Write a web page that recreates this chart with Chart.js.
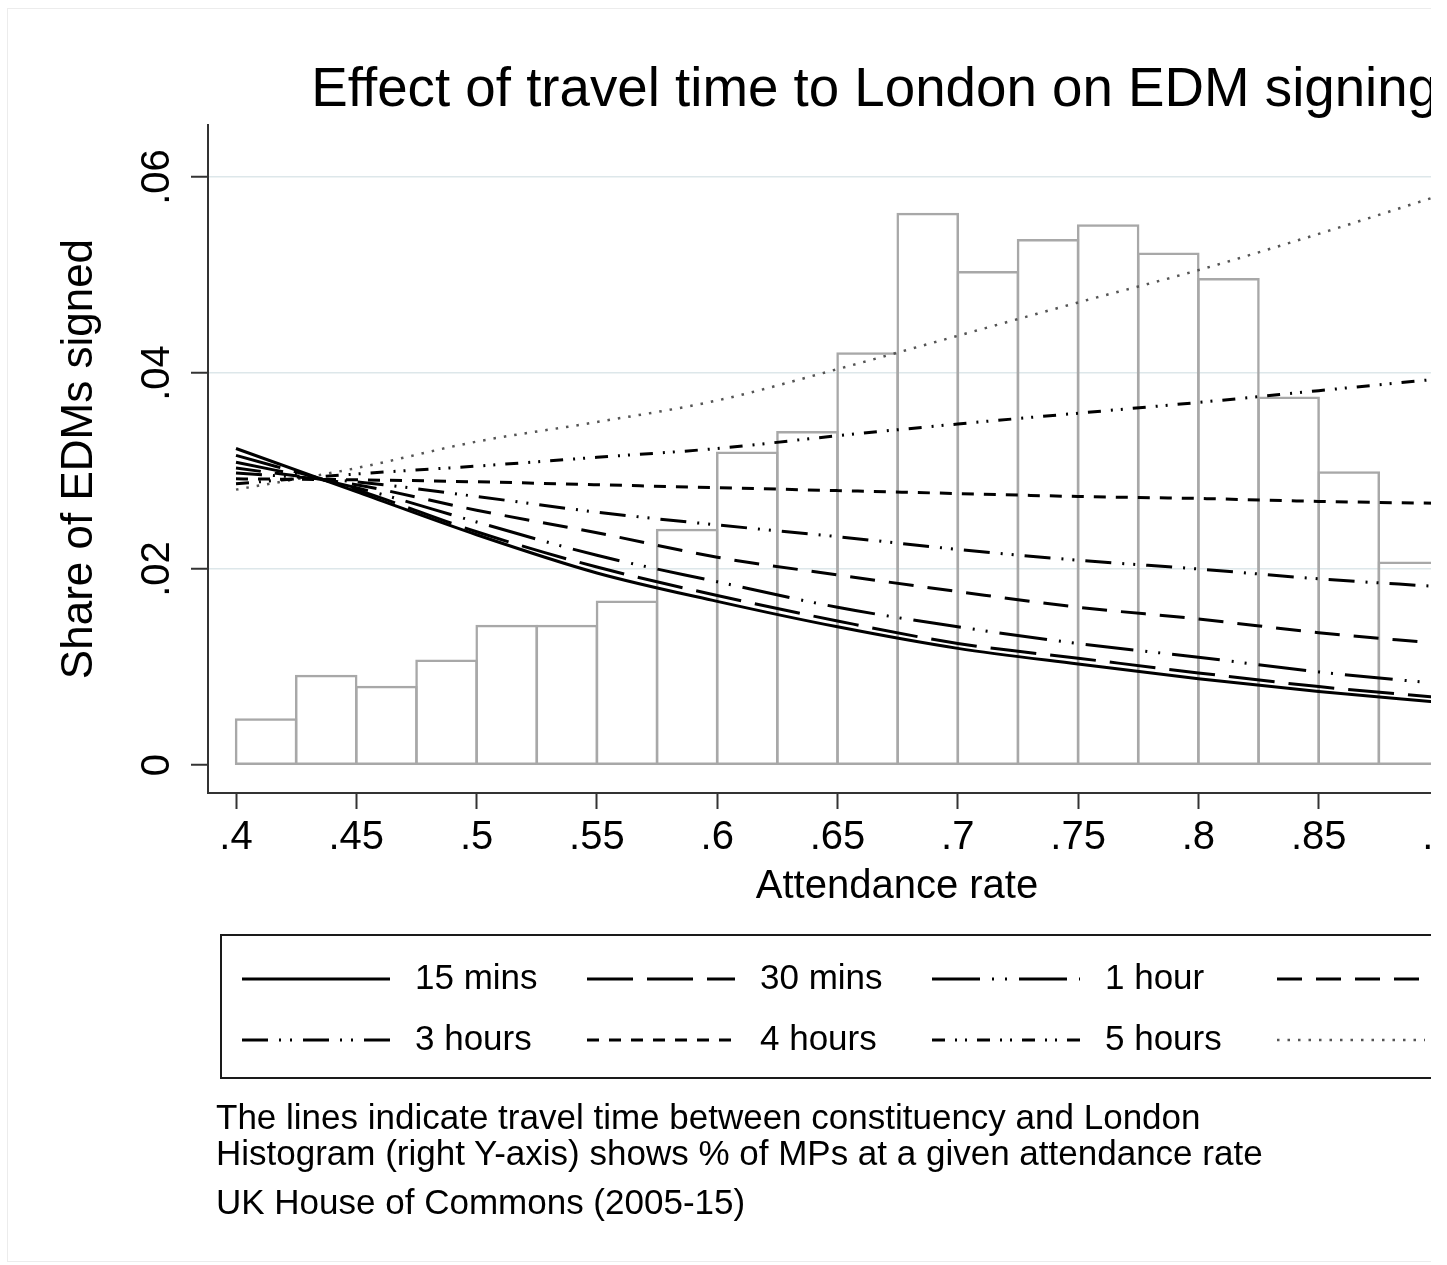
<!DOCTYPE html>
<html>
<head>
<meta charset="utf-8">
<title>Effect of travel time to London on EDM signing</title>
<script src="https://cdn.jsdelivr.net/npm/chart.js@4.4.0/dist/chart.umd.min.js"></script>
<style>
body { margin: 0; background: #fff; font-family: 'Liberation Sans', Arial, Helvetica, sans-serif; }
#frame { position: absolute; left: 7px; top: 8px; width: 1423px; height: 1252px; border: 1px solid #ececec; border-right: none; overflow: hidden; background: #fff; }
#frame canvas { position: absolute; left: 0; top: 0; }
.note { position: absolute; left: 208px; font-size: 35px; line-height: 35.5px; color: #000; white-space: nowrap; }
</style>
</head>
<body>
<div id="frame">
  <canvas id="edmChart" width="1748" height="1252"></canvas>
  <div class="note" style="top:1090px">The lines indicate travel time between constituency and London<br>Histogram (right Y-axis) shows % of MPs at a given attendance rate</div>
  <div class="note" style="top:1175px">UK House of Commons (2005-15)</div>
</div>
<script>
const attendance = [.4, .45, .5, .55, .6, .65, .7, .75, .8, .85, .9];

// predicted share of EDMs signed, one array per travel time
const mins15 = [.0323, .0279, .0235, .0196, .0167, .0141, .0119, .0103, .0088, .0075, .0064];
const mins30 = [.0316, .0281, .0238, .0202, .0173, .0147, .0124, .0109, .0094, .0080, .0069];
const hour1  = [.0309, .0283, .0248, .0214, .0187, .0161, .0141, .0124, .0110, .0095, .0083];
const hours2 = [.0303, .0286, .0260, .0237, .0212, .0194, .0177, .0161, .0149, .0135, .0124];
const hours3 = [.0298, .0289, .0274, .0258, .0245, .0233, .0220, .0209, .0200, .0190, .0182];
const hours4 = [.0292, .0291, .0289, .0286, .0283, .0280, .0277, .0274, .0272, .0269, .0267];
const hours5 = [.0287, .0297, .0305, .0314, .0323, .0336, .0348, .0359, .0370, .0382, .0394];
const hours6 = [.0281, .0303, .0330, .0350, .0372, .0404, .0438, .0472, .0505, .0542, .0581];

const seriesNames = ['15 mins', '30 mins', '1 hour', '2 hours', '3 hours', '4 hours', '5 hours', '6 hours'];
const seriesValues = [mins15, mins30, hour1, hours2, hours3, hours4, hours5, hours6];

// histogram: bin centres (width .025) and % of MPs
const binCentres = [.4125, .4375, .4625, .4875, .5125, .5375, .5625, .5875, .6125, .6375,
                    .6625, .6875, .7125, .7375, .7625, .7875, .8125, .8375, .8625, .8875];
const mpsPercent = [0.73, 1.41, 1.24, 1.65, 2.19, 2.19, 2.57, 3.69, 4.90, 5.22,
                    6.45, 8.63, 7.72, 8.22, 8.45, 8.01, 7.61, 5.76, 4.59, 3.18];

const xTicks = [.4, .45, .5, .55, .6, .65, .7, .75, .8, .85, .9, .95];
const xTickLabels = ['.4', '.45', '.5', '.55', '.6', '.65', '.7', '.75', '.8', '.85', '.9', '.95'];
const yTicks = [0, .02, .04, .06];
const yTickLabels = ['0', '.02', '.04', '.06'];

const FONT = "'Liberation Sans', Arial, Helvetica, sans-serif";
Chart.defaults.font.family = FONT;
Chart.defaults.color = '#000';

// line patterns, same order as seriesNames
const dashes = [
  [],
  [46, 14],
  [48, 12, 2, 11, 2, 12],
  [25, 14],
  [26, 11, 2, 9, 2, 11],
  [12, 10],
  [13, 10, 2, 8, 2, 10],
  [2.5, 8]
];

const datasets = seriesNames.map(function (name, i) {
  return {
    type: 'line',
    label: name,
    data: attendance.map(function (x, j) { return { x: x, y: seriesValues[i][j] }; }),
    borderColor: i === 7 ? '#555' : '#000',
    borderWidth: i === 7 ? 2.5 : 3,
    borderDash: dashes[i],
    pointRadius: 0,
    tension: 0.4,
    cubicInterpolationMode: 'monotone',
    fill: false,
    yAxisID: 'y',
    order: 0
  };
});

datasets.push({
  type: 'bar',
  label: '% of MPs',
  data: binCentres.map(function (c, i) { return { x: c, y: mpsPercent[i] }; }),
  backgroundColor: 'rgba(0,0,0,0)',
  borderColor: '#a8a8a8',
  borderWidth: 2.5,
  borderSkipped: false,
  inflateAmount: 0,
  barPercentage: 1.04,
  categoryPercentage: 1,
  yAxisID: 'y2',
  order: 1
});

// Stata style boxed legend, 4 columns
const boxedLegend = {
  id: 'boxedLegend',
  afterDraw(chart) {
    const ctx = chart.ctx, area = chart.chartArea;
    const left = area.left + 13, right = area.right - 13;
    const top = chart.scales.x.bottom + 28, h = 143;
    ctx.save();
    ctx.strokeStyle = '#1a1a1a';
    ctx.lineWidth = 2;
    ctx.strokeRect(left, top, right - left, h);
    ctx.font = '35px ' + FONT;
    ctx.fillStyle = '#000';
    ctx.textBaseline = 'middle';
    chart.data.datasets.forEach(function (ds, i) {
      if (ds.type !== 'line') return;
      const col = i % 4, row = Math.floor(i / 4);
      const x0 = left + 21 + col * 345;
      const y0 = top + 44 + row * 61;
      ctx.beginPath();
      ctx.setLineDash(ds.borderDash);
      ctx.lineWidth = ds.borderWidth;
      ctx.strokeStyle = ds.borderColor;
      ctx.moveTo(x0, y0);
      ctx.lineTo(x0 + 148, y0);
      ctx.stroke();
      ctx.setLineDash([]);
      ctx.fillText(ds.label, x0 + 173, y0);
    });
    ctx.restore();
  }
};

const yMin = -0.002857, yMax = 0.065306;

new Chart(document.getElementById('edmChart'), {
  type: 'line',
  data: { datasets: datasets },
  plugins: [boxedLegend],
  options: {
    responsive: false,
    animation: false,
    events: [],
    layout: { padding: { left: 45.6, right: 60.2, top: 0, bottom: 354 } },
    plugins: {
      legend: { display: false },
      tooltip: { enabled: false },
      title: {
        display: true,
        text: 'Effect of travel time to London on EDM signing',
        color: '#000',
        font: { size: 54.7, weight: 'normal', lineHeight: 1.2 },
        padding: { top: 49.1, bottom: 1.3 }
      }
    },
    scales: {
      x: {
        type: 'linear',
        min: 0.38836,
        max: 0.9611,
        offset: false,
        afterBuildTicks: function (s) { s.ticks = xTicks.map(function (v) { return { value: v }; }); },
        ticks: {
          autoSkip: false,
          maxRotation: 0,
          padding: 5,
          color: '#000',
          font: { size: 40, lineHeight: 1.2 },
          callback: function (v, i) { return xTickLabels[i]; }
        },
        grid: { offset: false, drawOnChartArea: false, tickLength: 16, tickColor: '#333', tickWidth: 2 },
        border: { color: '#333', width: 2 },
        title: {
          display: true,
          text: 'Attendance rate',
          color: '#000',
          font: { size: 40, lineHeight: 1 },
          padding: { top: 0, bottom: 0 }
        }
      },
      y: {
        position: 'left',
        min: yMin,
        max: yMax,
        afterBuildTicks: function (s) { s.ticks = yTicks.map(function (v) { return { value: v }; }); },
        ticks: {
          autoSkip: false,
          minRotation: 90,
          maxRotation: 90,
          crossAlign: 'center',
          padding: 5.5,
          color: '#000',
          font: { size: 40, lineHeight: 1.2 },
          callback: function (v, i) { return yTickLabels[i]; }
        },
        grid: {
          color: function (c) { return c.tick && c.tick.value === 0 ? 'rgba(0,0,0,0)' : '#dde7ea'; },
          lineWidth: 1.5,
          tickLength: 17,
          tickColor: '#333',
          tickWidth: 2
        },
        border: { color: '#333', width: 2 },
        title: {
          display: true,
          text: 'Share of EDMs signed',
          color: '#000',
          font: { size: 44, lineHeight: 1.2 },
          padding: { top: 0, bottom: 25.6 }
        }
      },
      // right axis for the histogram lies outside the visible crop
      y2: {
        position: 'right',
        display: true,
        min: yMin / yMax * 10,
        max: 10,
        ticks: { display: false },
        grid: { display: false, drawTicks: false },
        border: { display: false },
        afterFit: function (s) { s.width = 109.8; }
      }
    }
  }
});
</script>
</body>
</html>
